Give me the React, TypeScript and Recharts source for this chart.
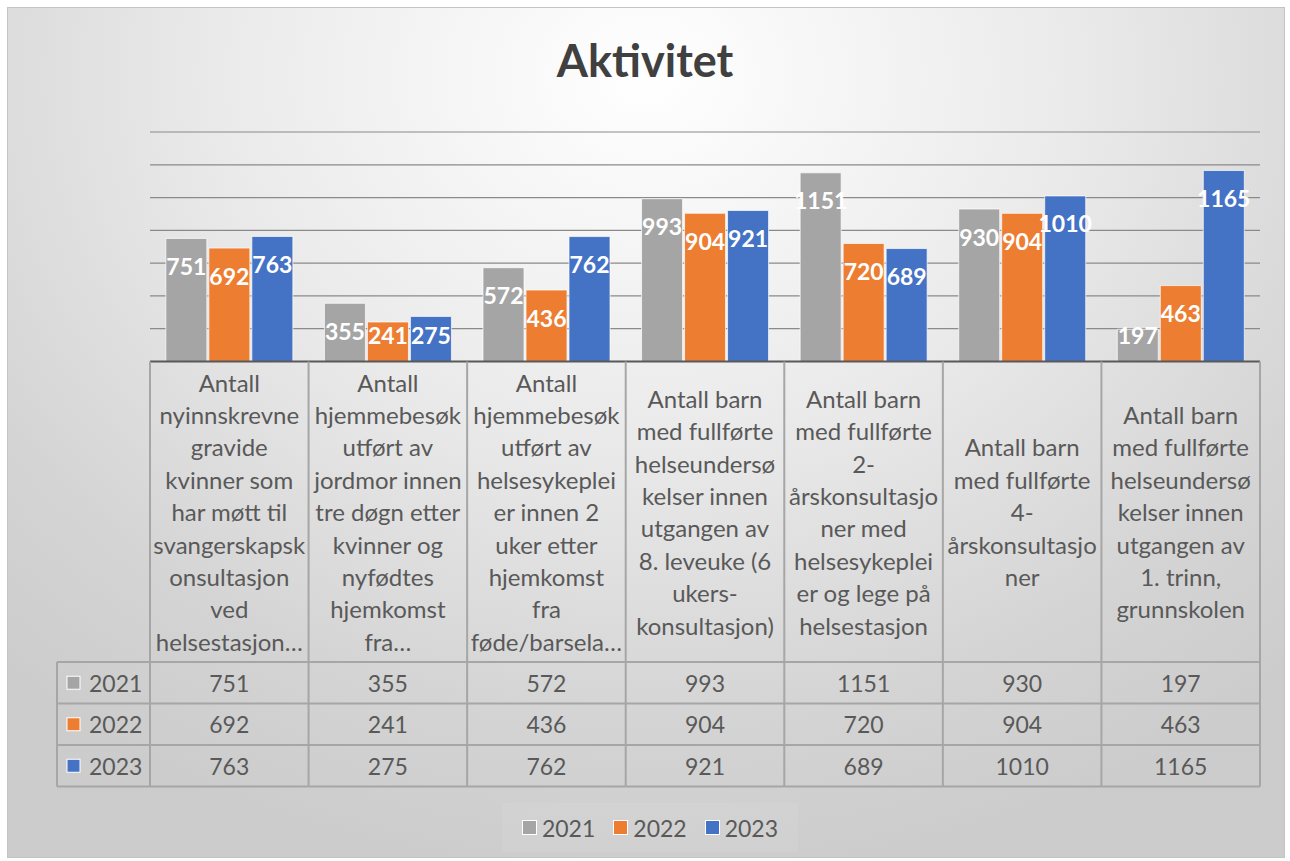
import React from 'react';
import { BarChart, Bar, XAxis, YAxis, CartesianGrid, LabelList, Legend } from 'recharts';

const categoryLines: string[][] = [
  ['Antall', 'nyinnskrevne', 'gravide', 'kvinner som', 'har møtt til', 'svangerskapsk', 'onsultasjon', 'ved', 'helsestasjon…'],
  ['Antall', 'hjemmebesøk', 'utført av', 'jordmor innen', 'tre døgn etter', 'kvinner og', 'nyfødtes', 'hjemkomst', 'fra…'],
  ['Antall', 'hjemmebesøk', 'utført av', 'helsesykeplei', 'er innen 2', 'uker etter', 'hjemkomst', 'fra', 'føde/barsela…'],
  ['Antall barn', 'med fullførte', 'helseundersø', 'kelser innen', 'utgangen av', '8. leveuke (6', 'ukers-', 'konsultasjon)'],
  ['Antall barn', 'med fullførte', '2-', 'årskonsultasjo', 'ner med', 'helsesykeplei', 'er og lege på', 'helsestasjon'],
  ['Antall barn', 'med fullførte', '4-', 'årskonsultasjo', 'ner'],
  ['Antall barn', 'med fullførte', 'helseundersø', 'kelser innen', 'utgangen av', '1. trinn,', 'grunnskolen'],
];
const values2021 = [751, 355, 572, 993, 1151, 930, 197];
const values2022 = [692, 241, 436, 904, 720, 904, 463];
const values2023 = [763, 275, 762, 921, 689, 1010, 1165];
const seriesNames = ['2021', '2022', '2023'];
const seriesKeys = ['y2021', 'y2022', 'y2023'];
const seriesColors = ['#A5A5A5', '#ED7D31', '#4472C4'];
const yTicks = [0, 200, 400, 600, 800, 1000, 1200, 1400];
const titleText = 'Aktivitet';

const seriesValues = [values2021, values2022, values2023];

const data = categoryLines.map((lines, i) => ({
  name: 'cat' + i,
  y2021: values2021[i],
  y2022: values2022[i],
  y2023: values2023[i],
}));

const W = 1290;
const H = 861;
const M = { top: 132, left: 150, right: 30, bottom: 74 };
const AXIS_H = 425.5;
const BW = (W - M.left - M.right) / categoryLines.length;
const FONT = 'Lato, "Open Sans", sans-serif';
const TEXT = '#595959';
const LINE = '#a6a6a6';
const CAT_H = 300.5;
const ROW_H = 41.5;
const KEY_W = 93;
const LINE_H = 32.4;

const TableTick = (props: any) => {
  const { x, y, index } = props;
  const left = x - BW / 2;
  const right = x + BW / 2;
  const lines = categoryLines[index] || [];
  const catMid = y + CAT_H / 2;
  const firstY = catMid - ((lines.length - 1) / 2) * LINE_H;
  const bottom = y + CAT_H + ROW_H * 3;
  const isLast = index === categoryLines.length - 1;
  return (
    <g>
      <line x1={left} y1={y} x2={left} y2={bottom} stroke={LINE} strokeWidth={2} />
      {isLast && <line x1={right} y1={y} x2={right} y2={bottom} stroke={LINE} strokeWidth={2} />}
      {[0, 1, 2, 3].map((r) => (
        <line key={'h' + r} x1={left} x2={right} y1={y + CAT_H + r * ROW_H} y2={y + CAT_H + r * ROW_H} stroke={LINE} strokeWidth={2} />
      ))}
      {lines.map((ln, k) => (
        <text key={'l' + k} x={x} y={firstY + k * LINE_H} textAnchor="middle" dominantBaseline="central" fontFamily={FONT} fontSize={24} fill={TEXT}>
          {ln}
        </text>
      ))}
      {seriesValues.map((vals, r) => (
        <text key={'v' + r} x={x} y={y + CAT_H + r * ROW_H + ROW_H / 2} textAnchor="middle" dominantBaseline="central" fontFamily={FONT} fontSize={23} fill={TEXT}>
          {vals[index]}
        </text>
      ))}
      {index === 0 && (
        <g>
          <line x1={left - KEY_W} x2={left - KEY_W} y1={y + CAT_H} y2={bottom} stroke={LINE} strokeWidth={2} />
          {[0, 1, 2, 3].map((r) => (
            <line key={'kh' + r} x1={left - KEY_W} x2={left} y1={y + CAT_H + r * ROW_H} y2={y + CAT_H + r * ROW_H} stroke={LINE} strokeWidth={2} />
          ))}
          {seriesNames.map((nm, r) => (
            <g key={'k' + r}>
              <rect x={left - KEY_W + 10} y={y + CAT_H + r * ROW_H + ROW_H / 2 - 6.5} width={13} height={13} fill={seriesColors[r]} stroke="#ffffff" strokeWidth={1} />
              <text x={left - KEY_W + 32} y={y + CAT_H + r * ROW_H + ROW_H / 2} dominantBaseline="central" fontFamily={FONT} fontSize={23} fill={TEXT}>
                {nm}
              </text>
            </g>
          ))}
        </g>
      )}
    </g>
  );
};

const BarValueLabel = (props: any) => {
  const { x, y, width, height, value } = props;
  const cy = Math.min(y + 27.5, y + height - 27);
  return (
    <text x={x + width / 2} y={cy} textAnchor="middle" dominantBaseline="central" fontFamily={FONT} fontWeight={700} fontSize={23} fill="#ffffff">
      {value}
    </text>
  );
};

const LegendContent = () => (
  <div style={{ display: 'flex', alignItems: 'center', justifyContent: 'center', height: '100%', fontFamily: FONT, fontSize: 23, color: TEXT, background: 'rgba(255,255,255,0.07)' }}>
    {seriesNames.map((nm, i) => (
      <div key={nm} style={{ display: 'flex', alignItems: 'center', marginRight: i < 2 ? 18 : 0 }}>
        <span style={{ display: 'inline-block', width: 13, height: 13, background: seriesColors[i], border: '1px solid #fff', marginRight: 5 }} />
        <span>{nm}</span>
      </div>
    ))}
  </div>
);

export default function App() {
  return (
    <div style={{ position: 'absolute', left: 0, top: 0, width: W, height: H, background: '#ffffff' }}>
      <div
        style={{
          position: 'absolute',
          left: 7,
          top: 7,
          width: 1278,
          height: 851,
          boxSizing: 'border-box',
          border: '1px solid #c4c4c4',
          background: 'radial-gradient(ellipse 75% 95% at 50% 8%, #ffffff 0%, #eaeaea 45%, #d4d4d4 80%, #cccccc 100%)',
        }}
      />
      <div
        style={{
          position: 'absolute',
          left: 0,
          top: 38,
          width: W,
          textAlign: 'center',
          fontFamily: FONT,
          fontWeight: 700,
          fontSize: 45,
          lineHeight: '45px',
          color: '#404040',
        }}
      >
        {titleText}
      </div>
      <div style={{ position: 'absolute', left: 0, top: 0 }}>
        <BarChart width={W} height={H} data={data} margin={M} barCategoryGap="10%" barGap={2}>
          <CartesianGrid vertical={false} stroke="#8a8a8a" strokeWidth={1.2} />
          <YAxis hide domain={[0, 1400]} ticks={yTicks} />
          <XAxis
            dataKey="name"
            height={AXIS_H}
            interval={0}
            tickLine={false}
            tickSize={0}
            tickMargin={0}
            axisLine={{ stroke: '#595959', strokeWidth: 2 }}
            tick={<TableTick />}
          />
          {seriesKeys.map((k, i) => (
            <Bar key={k} dataKey={k} name={seriesNames[i]} fill={seriesColors[i]} stroke="rgba(255,255,255,0.7)" strokeWidth={1} isAnimationActive={false}>
              <LabelList dataKey={k} content={<BarValueLabel />} />
            </Bar>
          ))}
          <Legend
            layout="vertical"
            align="center"
            verticalAlign="middle"
            wrapperStyle={{ top: 803, left: 502, width: 296, height: 49 }}
            content={() => <LegendContent />}
          />
        </BarChart>
      </div>
    </div>
  );
}
